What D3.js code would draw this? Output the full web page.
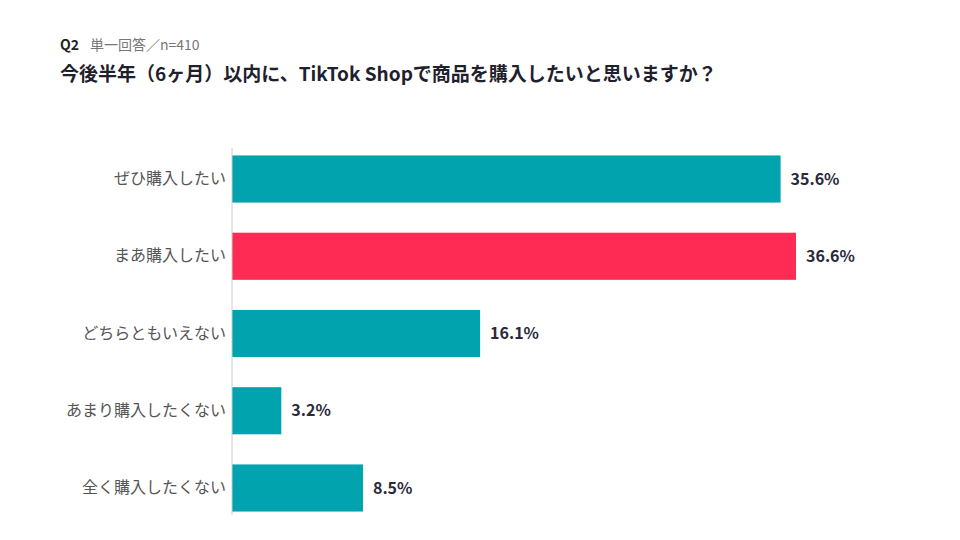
<!DOCTYPE html>
<html><head><meta charset="utf-8">
<script src="https://cdn.jsdelivr.net/npm/d3@7"></script>
<style>body{margin:0;background:#fff}</style>
</head><body>
<svg id="chart" width="960" height="540"></svg>
<script>
// chart data
var categories = ['ぜひ購入したい', 'まあ購入したい', 'どちらともいえない', 'あまり購入したくない', '全く購入したくない'];
var values = [35.6, 36.6, 16.1, 3.2, 8.5];
var highlight = 'まあ購入したい';

var svg = d3.select('#chart');
var font = "'Noto Sans CJK JP', 'Noto Sans', sans-serif";

svg.append('text').attr('x', 60).attr('y', 50)
  .attr('font-family', font).attr('font-size', 14).attr('font-weight', 700).attr('fill', '#222')
  .text('Q2');
svg.append('text').attr('x', 90).attr('y', 50)
  .attr('font-family', font).attr('font-size', 14).attr('fill', '#777')
  .text('単一回答／n=410');
svg.append('text').attr('x', 60).attr('y', 81)
  .attr('font-family', font).attr('font-size', 19).attr('font-weight', 700).attr('fill', '#1f1f2e')
  .text('今後半年（6ヶ月）以内に、TikTok Shopで商品を購入したいと思いますか？');

var x = d3.scaleLinear().domain([0, 36.6]).range([232, 796]);
var y = d3.scaleBand().domain(categories).range([140, 527]).paddingInner(0.39).paddingOuter(0.2);

svg.selectAll('rect.bar').data(categories).enter().append('rect')
  .attr('class', 'bar')
  .attr('x', x(0))
  .attr('y', function (d) { return y(d); })
  .attr('width', function (d, i) { return x(values[i]) - x(0); })
  .attr('height', y.bandwidth())
  .attr('fill', function (d) { return d === highlight ? '#FE2C55' : '#00A3AE'; });

svg.selectAll('text.val').data(categories).enter().append('text')
  .attr('class', 'val')
  .attr('x', function (d, i) { return x(values[i]) + 10; })
  .attr('y', function (d) { return y(d) + y.bandwidth() / 2; })
  .attr('dy', '0.35em')
  .attr('font-family', font).attr('font-size', 16).attr('font-weight', 700).attr('fill', '#2a2a3a')
  .text(function (d, i) { return values[i].toFixed(1) + '%'; });

// axis: labels on left, plain vertical line
var axis = svg.append('g').attr('transform', 'translate(' + x(0) + ',0)')
  .call(d3.axisLeft(y).tickSize(0).tickPadding(6));
axis.select('.domain').attr('stroke', '#ccc').attr('d', 'M0,148V515');
axis.selectAll('text').attr('font-family', font).attr('font-size', 16).attr('fill', '#555');
</script>
</body></html>
